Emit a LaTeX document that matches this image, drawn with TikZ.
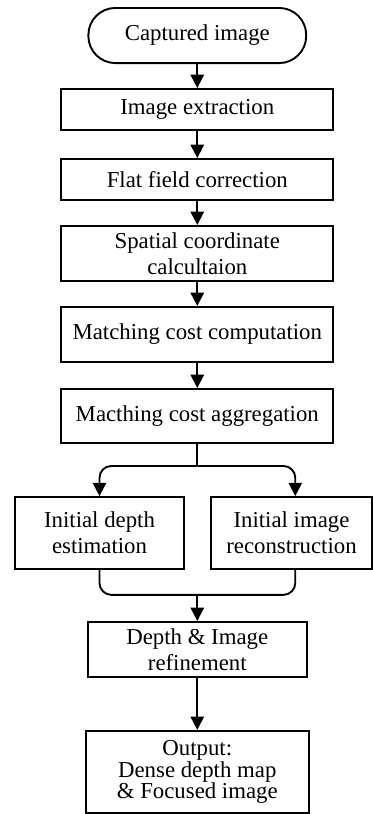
\documentclass[tikz,border=0pt]{standalone}
\usepackage{fontspec}
\setmainfont{Liberation Serif}
\usepackage{tikz}
\usetikzlibrary{arrows.meta}
\tikzset{
	stagebox/.style={draw, line width=1pt, align=center, inner sep=0pt, font=\fontsize{12}{13.8}\selectfont},
	startbox/.style={stagebox, rounded corners=0.5cm},
	flowline/.style={line width=1pt},
	flowarrow/.style={flowline, -{Triangle[length=7pt, width=7pt]}}
}

\begin{document}
\begin{tikzpicture}
		%%%%% START %%%%%
		
		\useasboundingbox (0, 0) rectangle (6.9, -15.06);
		
		\node[startbox, minimum width=4.03cm, minimum height=1.02cm] (cap) at (3.65, -0.657) {Captured image};
		\node[stagebox, minimum width=5.03cm, minimum height=0.76cm] (ext) at (3.65, -2.026) {Image extraction};
		\node[stagebox, minimum width=5.03cm, minimum height=0.76cm] (flat) at (3.65, -3.321) {Flat field correction};
		\node[stagebox, minimum width=5.03cm, minimum height=1.02cm] (spat) at (3.65, -4.69) {Spatial coordinate\\calcultaion};
		\node[stagebox, minimum width=5.03cm, minimum height=1.02cm] (comp) at (3.65, -6.188) {Matching cost computation};
		\node[stagebox, minimum width=5.03cm, minimum height=1.0cm] (aggr) at (3.65, -7.696) {Macthing cost aggregation};
		
		\node[stagebox, minimum width=3.13cm, minimum height=1.33cm] (depth) at (1.841, -9.861) {Initial depth\\estimation};
		\node[stagebox, minimum width=2.98cm, minimum height=1.33cm] (recon) at (5.393, -9.861) {Initial image\\reconstruction};
		
		\node[stagebox, minimum width=4.05cm, minimum height=1.02cm] (refine) at (3.65, -12.016) {Depth \& Image\\refinement};
		\node[stagebox, minimum width=4.13cm, minimum height=1.52cm, font=\fontsize{12}{11.3}\selectfont] (out) at (3.65, -14.282) {Output:\\Dense depth map\\\& Focused image};
		
		\draw[flowarrow] (cap) -- (ext);
		\draw[flowarrow] (ext) -- (flat);
		\draw[flowarrow] (flat) -- (spat);
		\draw[flowarrow] (spat) -- (comp);
		\draw[flowarrow] (comp) -- (aggr);
		
		% split into the two branches
		\draw[flowline] (aggr.south) -- ++(0, -0.407) coordinate (split);
		\draw[flowarrow, rounded corners=0.22cm] (split) -| (depth.north);
		\draw[flowarrow, rounded corners=0.22cm] (split) -| ([xshift=0.07cm]recon.north);
		
		% merge again
		\draw[flowline, rounded corners=0.22cm] (depth.south) -- ++(0, -0.462) -| ([xshift=0.07cm]recon.south);
		\coordinate (join) at (3.65, -10.989);
		\draw[flowarrow] (join) -- (refine.north);
		
		\draw[flowarrow] (refine) -- (out);
		
		%%%%% END %%%%%
	\end{tikzpicture}
\end{document}
